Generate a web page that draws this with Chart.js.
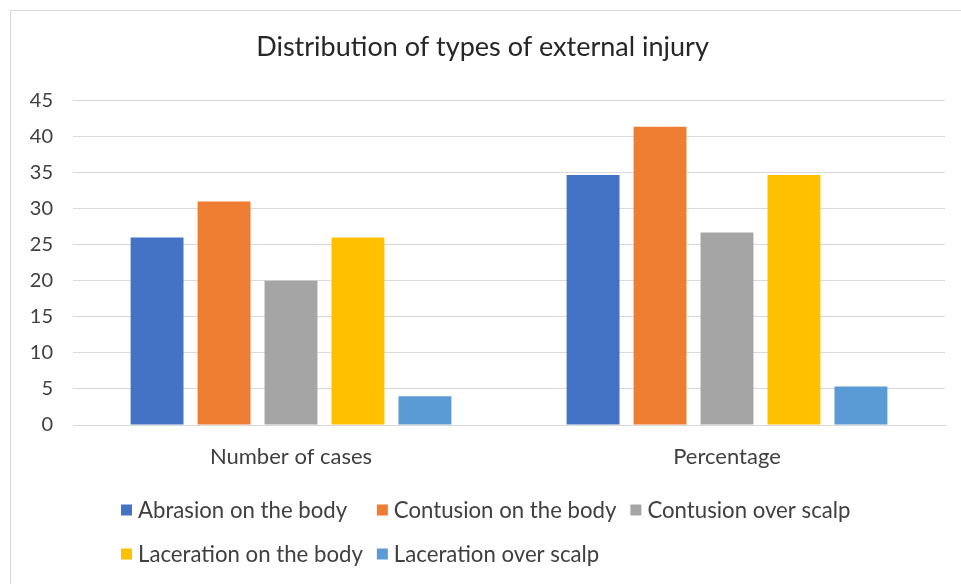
<!DOCTYPE html>
<html>
<head>
<meta charset="utf-8">
<script src="https://cdn.jsdelivr.net/npm/chart.js@4/dist/chart.umd.min.js"></script>
<style>
  html, body { margin: 0; padding: 0; background: #fff; }
  #wrap { position: relative; width: 961px; height: 584px; }
  #frame {
    position: absolute; left: 10px; top: 10px; width: 960px; height: 590px;
    border-left: 1px solid #d9d9d9; border-top: 1px solid #d9d9d9;
  }
  canvas { position: absolute; left: 0; top: 0; }
</style>
</head>
<body>
<div id="wrap">
  <div id="frame"></div>
  <canvas id="chart" width="961" height="584"></canvas>
</div>
<script>
// dados
const categories = ['Number of cases', 'Percentage'];
const seriesNames = [
  'Abrasion on the body',
  'Contusion on the body',
  'Contusion over scalp',
  'Laceration on the body',
  'Laceration over scalp'
];
const abrasionBody = [26, 34.67];
const contusionBody = [31, 41.33];
const contusionScalp = [20, 26.67];
const lacerationBody = [26, 34.67];
const lacerationScalp = [4, 5.33];
const yTicks = [0, 5, 10, 15, 20, 25, 30, 35, 40, 45];
const seriesColors = ['#4472c4', '#ed7d31', '#a5a5a5', '#ffc000', '#5b9bd5'];

const FONT = 'Lato, Carlito, "Noto Sans", sans-serif';
const TEXT_COLOR = '#404040';

// legenda no estilo Excel: linhas alinhadas em colunas
const excelLegend = {
  id: 'excelLegend',
  afterDraw(chart) {
    const ctx = chart.ctx;
    const ds = chart.data.datasets;
    const rows = [[0, 1, 2], [3, 4]];
    const rowY = [510, 554];
    const startX = 121;
    const box = 11;
    const gap = 6;
    ctx.save();
    ctx.font = '22.2px ' + FONT;
    ctx.textBaseline = 'middle';
    // largura das colunas pelo maior item
    const colW = [0, 0, 0];
    rows.forEach(r => r.forEach((idx, c) => {
      const w = box + gap + ctx.measureText(ds[idx].label).width + 14;
      colW[c] = Math.max(colW[c], w);
    }));
    rows.forEach((r, ri) => {
      let x = startX;
      r.forEach((idx, c) => {
        const y = rowY[ri];
        ctx.fillStyle = ds[idx].backgroundColor;
        ctx.fillRect(x, y - box / 2, box, box);
        ctx.fillStyle = TEXT_COLOR;
        ctx.fillText(ds[idx].label, x + box + gap, y + 1);
        x += colW[c];
      });
    });
    ctx.restore();
  }
};

const seriesData = [abrasionBody, contusionBody, contusionScalp, lacerationBody, lacerationScalp];

new Chart(document.getElementById('chart').getContext('2d'), {
  type: 'bar',
  data: {
    labels: categories,
    datasets: seriesNames.map((name, i) => ({
      label: name,
      data: seriesData[i],
      backgroundColor: seriesColors[i],
      borderWidth: 0,
      categoryPercentage: 0.768,
      barPercentage: 0.79
    }))
  },
  options: {
    responsive: false,
    animation: false,
    layout: { padding: { left: 20, right: 16, top: 10, bottom: 100 } },
    plugins: {
      legend: { display: false },
      tooltip: { enabled: false },
      title: {
        display: true,
        text: 'Distribution of types of external injury',
        color: '#262626',
        font: { family: FONT, size: 27, weight: 'normal' },
        padding: { top: 21, bottom: 37 }
      }
    },
    scales: {
      x: {
        grid: { display: false, drawTicks: false },
        border: { display: true, color: '#d9d9d9' },
        ticks: { color: TEXT_COLOR, font: { family: FONT, size: 22 }, padding: 19 },
        afterFit(s) { s.height = 59; }
      },
      y: {
        min: 0,
        max: 45,
        afterBuildTicks(s) { s.ticks = yTicks.map(v => ({ value: v })); },
        grid: { color: '#d9d9d9', drawTicks: false },
        border: { display: false },
        ticks: { color: TEXT_COLOR, font: { family: FONT, size: 20 }, padding: 20 },
        afterFit(s) { s.width = 53; }
      }
    }
  },
  plugins: [excelLegend]
});
</script>
</body>
</html>
